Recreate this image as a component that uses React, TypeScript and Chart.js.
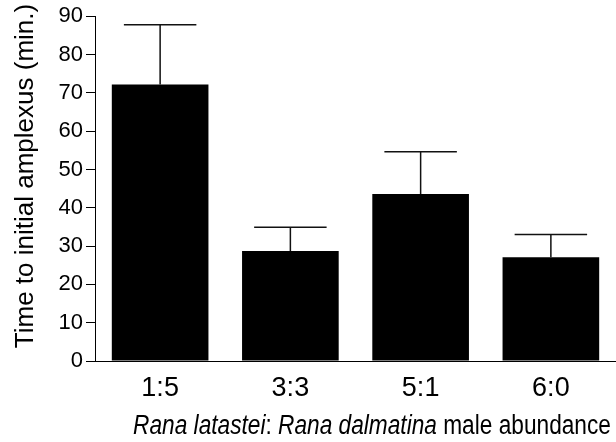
import { useEffect, useRef } from "react";
import { Chart, registerables } from "chart.js";

Chart.register(...registerables);

const categories = ["1:5", "3:3", "5:1", "6:0"];
const meanValues = [72.2, 28.7, 43.6, 27.1];
const errorTops = [87.8, 34.9, 54.6, 33.0];
const yMin = 0;
const yMax = 90;
const yStep = 10;
const yTitle = "Time to initial amplexus (min.)";
const xTitleParts = [
  { text: "Rana latastei", italic: true },
  { text: ": ", italic: false },
  { text: "Rana dalmatina", italic: true },
  { text: " male abundance", italic: false },
];

const FONT = "'Liberation Sans', Arial, Helvetica, sans-serif";

const errorBarPlugin = {
  id: "errorBars",
  afterDatasetsDraw(chart: any) {
    const ctx = chart.ctx;
    const meta = chart.getDatasetMeta(0);
    const yScale = chart.scales.y;
    ctx.save();
    ctx.strokeStyle = "#111";
    ctx.lineWidth = 1.5;
    meta.data.forEach((bar: any, i: number) => {
      const x = bar.x;
      const yTop = yScale.getPixelForValue(meanValues[i]);
      const yCap = yScale.getPixelForValue(errorTops[i]);
      const half = bar.width * 0.375;
      ctx.beginPath();
      ctx.moveTo(x, yTop);
      ctx.lineTo(x, yCap);
      ctx.moveTo(x - half, yCap);
      ctx.lineTo(x + half, yCap);
      ctx.stroke();
    });
    ctx.restore();
  },
};

const titlesPlugin = {
  id: "titles",
  afterDraw(chart: any) {
    const ctx = chart.ctx;
    ctx.save();
    ctx.fillStyle = "#000";
    // Y title
    ctx.save();
    ctx.translate(32.5, 176);
    ctx.rotate(-Math.PI / 2);
    ctx.font = `26px ${FONT}`;
    ctx.textAlign = "center";
    ctx.textBaseline = "alphabetic";
    ctx.fillText(yTitle, 0, 0);
    ctx.restore();
    // X title with mixed italic
    const size = 27;
    const sx = 0.84;
    const widths = xTitleParts.map((p) => {
      ctx.font = `${p.italic ? "italic " : ""}${size}px ${FONT}`;
      return ctx.measureText(p.text).width;
    });
    const total = widths.reduce((a, b) => a + b, 0);
    ctx.translate(372, 434);
    ctx.scale(sx, 1);
    ctx.textAlign = "left";
    ctx.textBaseline = "alphabetic";
    let cx = -total / 2;
    xTitleParts.forEach((p, i) => {
      ctx.font = `${p.italic ? "italic " : ""}${size}px ${FONT}`;
      ctx.fillText(p.text, cx, 0);
      cx += widths[i];
    });
    ctx.restore();
  },
};

export default function App() {
  const ref = useRef<HTMLCanvasElement | null>(null);
  useEffect(() => {
    document.body.style.margin = "0";
    if (!ref.current) return;
    const chart = new Chart(ref.current, {
      type: "bar",
      data: {
        labels: categories,
        datasets: [
          {
            data: meanValues,
            backgroundColor: "#000",
            borderWidth: 0,
            barPercentage: 0.742,
            categoryPercentage: 1,
          },
        ],
      },
      options: {
        responsive: false,
        animation: false,
        layout: { padding: { top: 15, left: 0, right: 0, bottom: 0 } },
        plugins: { legend: { display: false }, tooltip: { enabled: false }, title: { display: false } },
        scales: {
          x: {
            grid: { display: false, drawTicks: false },
            border: { display: true, color: "#000", width: 1 },
            ticks: { color: "#000", font: { family: FONT, size: 27 }, padding: 11 },
            afterFit: (s: any) => {
              s.height = 81;
            },
          },
          y: {
            min: yMin,
            max: yMax,
            grid: { display: true, drawOnChartArea: false, drawTicks: true, tickLength: 9, color: "#000", lineWidth: 1 },
            border: { display: true, color: "#000", width: 1 },
            ticks: { stepSize: yStep, color: "#000", font: { family: FONT, size: 22 }, padding: 3 },
            afterFit: (s: any) => {
              s.width = 95;
            },
          },
        },
      },
      plugins: [errorBarPlugin, titlesPlugin],
    });
    return () => chart.destroy();
  }, []);
  return <canvas ref={ref} width={616} height={442} style={{ display: "block" }} />;
}
